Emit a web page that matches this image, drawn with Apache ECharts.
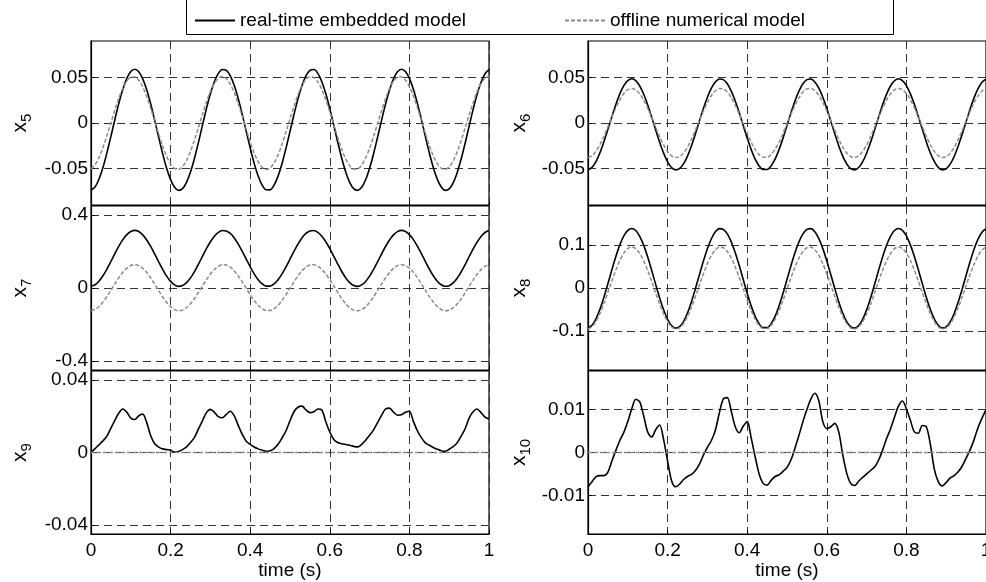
<!DOCTYPE html>
<html>
<head>
<meta charset="utf-8">
<title>Embedded vs offline model states</title>
<script src="https://cdn.jsdelivr.net/npm/echarts@6/dist/echarts.min.js"></script>
<style>
  html, body { margin: 0; padding: 0; background: #fff; }
  #chart { width: 986px; height: 582px; }
</style>
</head>
<body>
<div id="chart"></div>
<script>
// sample times (s)
const time = [
  0, 0.01, 0.02, 0.03, 0.04, 0.05, 0.06, 0.07, 0.08, 0.09,
  0.1, 0.11, 0.12, 0.13, 0.14, 0.15, 0.16, 0.17, 0.18, 0.19,
  0.2, 0.21, 0.22, 0.23, 0.24, 0.25, 0.26, 0.27, 0.28, 0.29,
  0.3, 0.31, 0.32, 0.33, 0.34, 0.35, 0.36, 0.37, 0.38, 0.39,
  0.4, 0.41, 0.42, 0.43, 0.44, 0.45, 0.46, 0.47, 0.48, 0.49,
  0.5, 0.51, 0.52, 0.53, 0.54, 0.55, 0.56, 0.57, 0.58, 0.59,
  0.6, 0.61, 0.62, 0.63, 0.64, 0.65, 0.66, 0.67, 0.68, 0.69,
  0.7, 0.71, 0.72, 0.73, 0.74, 0.75, 0.76, 0.77, 0.78, 0.79,
  0.8, 0.81, 0.82, 0.83, 0.84, 0.85, 0.86, 0.87, 0.88, 0.89,
  0.9, 0.91, 0.92, 0.93, 0.94, 0.95, 0.96, 0.97, 0.98, 0.99,
  1
];
const timeEnds = [0, 1];

const x5Embedded = [
  -0.0739, -0.0703, -0.0617, -0.0489, -0.0328, -0.0148, 0.0039, 0.0216, 0.0370, 0.0490,
  0.0565, 0.0590, 0.0563, 0.0485, 0.0364, 0.0208, 0.0030, -0.0156, -0.0336, -0.0496,
  -0.0622, -0.0705, -0.0739, -0.0721, -0.0652, -0.0538, -0.0387, -0.0212, -0.0026, 0.0156,
  0.0320, 0.0453, 0.0544, 0.0587, 0.0578, 0.0518, 0.0411, 0.0266, 0.0094, -0.0091,
  -0.0275, -0.0443, -0.0582, -0.0682, -0.0733, -0.0734, -0.0682, -0.0583, -0.0444, -0.0276,
  -0.0092, 0.0093, 0.0265, 0.0410, 0.0517, 0.0578, 0.0587, 0.0545, 0.0453, 0.0320,
  0.0157, -0.0025, -0.0211, -0.0387, -0.0538, -0.0652, -0.0721, -0.0739, -0.0706, -0.0623,
  -0.0496, -0.0337, -0.0157, 0.0029, 0.0207, 0.0363, 0.0485, 0.0562, 0.0590, 0.0565,
  0.0490, 0.0371, 0.0217, 0.0040, -0.0147, -0.0327, -0.0488, -0.0616, -0.0702, -0.0739,
  -0.0723, -0.0657, -0.0545, -0.0396, -0.0222, -0.0036, 0.0147, 0.0312, 0.0447, 0.0541,
  0.0586
];
const x5Offline = [
  -0.0503, -0.0459, -0.0380, -0.0270, -0.0139, 0.0002, 0.0144, 0.0274, 0.0382, 0.0461,
  0.0503, 0.0506, 0.0470, 0.0396, 0.0291, 0.0163, 0.0023, -0.0119, -0.0252, -0.0365,
  -0.0450, -0.0499, -0.0509, -0.0479, -0.0411, -0.0311, -0.0187, -0.0048, 0.0095, 0.0230,
  0.0347, 0.0437, 0.0493, 0.0510, 0.0487, 0.0426, 0.0331, 0.0210, 0.0073, -0.0070,
  -0.0207, -0.0328, -0.0424, -0.0486, -0.0510, -0.0494, -0.0439, -0.0350, -0.0233, -0.0098,
  0.0045, 0.0184, 0.0309, 0.0409, 0.0478, 0.0508, 0.0499, 0.0451, 0.0367, 0.0255,
  0.0122, -0.0020, -0.0160, -0.0288, -0.0394, -0.0468, -0.0506, -0.0504, -0.0462, -0.0384,
  -0.0276, -0.0147, -0.0005, 0.0136, 0.0267, 0.0377, 0.0458, 0.0502, 0.0507, 0.0472,
  0.0400, 0.0297, 0.0170, 0.0030, -0.0112, -0.0246, -0.0360, -0.0446, -0.0497, -0.0509,
  -0.0481, -0.0416, -0.0317, -0.0194, -0.0055, 0.0087, 0.0223, 0.0342, 0.0433, 0.0491,
  0.0510
];
const x6Embedded = [
  -0.0514, -0.0487, -0.0423, -0.0326, -0.0205, -0.0070, 0.0070, 0.0204, 0.0320, 0.0410,
  0.0466, 0.0485, 0.0465, 0.0406, 0.0315, 0.0198, 0.0064, -0.0076, -0.0211, -0.0331,
  -0.0426, -0.0489, -0.0515, -0.0501, -0.0449, -0.0363, -0.0250, -0.0118, 0.0022, 0.0158,
  0.0282, 0.0382, 0.0451, 0.0483, 0.0476, 0.0431, 0.0350, 0.0241, 0.0112, -0.0027,
  -0.0165, -0.0292, -0.0396, -0.0471, -0.0510, -0.0510, -0.0471, -0.0397, -0.0292, -0.0166,
  -0.0028, 0.0112, 0.0241, 0.0350, 0.0430, 0.0476, 0.0483, 0.0451, 0.0382, 0.0282,
  0.0159, 0.0022, -0.0118, -0.0249, -0.0363, -0.0449, -0.0501, -0.0515, -0.0489, -0.0427,
  -0.0332, -0.0212, -0.0077, 0.0063, 0.0197, 0.0314, 0.0406, 0.0464, 0.0485, 0.0466,
  0.0410, 0.0320, 0.0205, 0.0071, -0.0069, -0.0205, -0.0326, -0.0422, -0.0487, -0.0514,
  -0.0503, -0.0452, -0.0368, -0.0256, -0.0125, 0.0014, 0.0152, 0.0276, 0.0377, 0.0448,
  0.0482
];
const x6Offline = [
  -0.0379, -0.0359, -0.0310, -0.0236, -0.0145, -0.0041, 0.0065, 0.0166, 0.0255, 0.0323,
  0.0366, 0.0380, 0.0364, 0.0320, 0.0251, 0.0162, 0.0060, -0.0046, -0.0149, -0.0240,
  -0.0313, -0.0360, -0.0380, -0.0369, -0.0330, -0.0265, -0.0178, -0.0078, 0.0028, 0.0132,
  0.0226, 0.0302, 0.0354, 0.0378, 0.0373, 0.0339, 0.0278, 0.0195, 0.0097, -0.0009,
  -0.0114, -0.0210, -0.0290, -0.0347, -0.0376, -0.0376, -0.0347, -0.0290, -0.0211, -0.0115,
  -0.0010, 0.0096, 0.0194, 0.0277, 0.0339, 0.0373, 0.0378, 0.0354, 0.0302, 0.0226,
  0.0132, 0.0028, -0.0078, -0.0178, -0.0264, -0.0330, -0.0369, -0.0380, -0.0360, -0.0313,
  -0.0241, -0.0150, -0.0047, 0.0060, 0.0161, 0.0250, 0.0320, 0.0364, 0.0380, 0.0366,
  0.0323, 0.0255, 0.0167, 0.0065, -0.0041, -0.0144, -0.0236, -0.0309, -0.0358, -0.0379,
  -0.0371, -0.0333, -0.0268, -0.0183, -0.0084, 0.0022, 0.0127, 0.0221, 0.0298, 0.0352,
  0.0378
];
const x7Embedded = [
  0.0092, 0.0176, 0.0374, 0.0670, 0.1041, 0.1458, 0.1887, 0.2297, 0.2653, 0.2929,
  0.3103, 0.3160, 0.3097, 0.2918, 0.2638, 0.2279, 0.1867, 0.1437, 0.1022, 0.0654,
  0.0362, 0.0170, 0.0091, 0.0133, 0.0293, 0.0556, 0.0904, 0.1308, 0.1737, 0.2158,
  0.2536, 0.2843, 0.3054, 0.3154, 0.3133, 0.2993, 0.2747, 0.2412, 0.2015, 0.1588,
  0.1164, 0.0776, 0.0455, 0.0225, 0.0105, 0.0105, 0.0224, 0.0453, 0.0774, 0.1162,
  0.1586, 0.2013, 0.2410, 0.2745, 0.2993, 0.3132, 0.3154, 0.3055, 0.2844, 0.2538,
  0.2160, 0.1739, 0.1310, 0.0906, 0.0557, 0.0294, 0.0134, 0.0091, 0.0169, 0.0361,
  0.0652, 0.1020, 0.1435, 0.1865, 0.2277, 0.2637, 0.2917, 0.3096, 0.3160, 0.3103,
  0.2930, 0.2655, 0.2299, 0.1889, 0.1460, 0.1043, 0.0671, 0.0375, 0.0177, 0.0093,
  0.0128, 0.0282, 0.0540, 0.0884, 0.1286, 0.1715, 0.2137, 0.2518, 0.2830, 0.3046,
  0.3151
];
const x7Offline = [
  -0.1248, -0.1179, -0.1016, -0.0772, -0.0467, -0.0123, 0.0231, 0.0569, 0.0862, 0.1090,
  0.1233, 0.1280, 0.1228, 0.1081, 0.0850, 0.0554, 0.0215, -0.0140, -0.0482, -0.0785,
  -0.1025, -0.1184, -0.1249, -0.1214, -0.1083, -0.0866, -0.0579, -0.0246, 0.0108, 0.0454,
  0.0766, 0.1019, 0.1193, 0.1275, 0.1257, 0.1143, 0.0939, 0.0663, 0.0337, -0.0015,
  -0.0365, -0.0685, -0.0949, -0.1139, -0.1237, -0.1238, -0.1140, -0.0951, -0.0686, -0.0367,
  -0.0017, 0.0335, 0.0662, 0.0938, 0.1142, 0.1257, 0.1275, 0.1194, 0.1020, 0.0767,
  0.0456, 0.0109, -0.0244, -0.0578, -0.0865, -0.1082, -0.1214, -0.1249, -0.1185, -0.1027,
  -0.0787, -0.0483, -0.0141, 0.0213, 0.0552, 0.0849, 0.1080, 0.1228, 0.1280, 0.1233,
  0.1090, 0.0864, 0.0570, 0.0233, -0.0121, -0.0465, -0.0771, -0.1015, -0.1178, -0.1248,
  -0.1218, -0.1092, -0.0879, -0.0595, -0.0264, 0.0089, 0.0437, 0.0751, 0.1008, 0.1186,
  0.1273
];
const x8Embedded = [
  -0.0928, -0.0865, -0.0716, -0.0494, -0.0215, 0.0099, 0.0422, 0.0730, 0.0999, 0.1206,
  0.1337, 0.1380, 0.1333, 0.1198, 0.0988, 0.0717, 0.0407, 0.0084, -0.0229, -0.0506,
  -0.0725, -0.0870, -0.0929, -0.0897, -0.0778, -0.0580, -0.0318, -0.0013, 0.0310, 0.0626,
  0.0911, 0.1141, 0.1301, 0.1375, 0.1359, 0.1255, 0.1069, 0.0817, 0.0519, 0.0197,
  -0.0122, -0.0414, -0.0656, -0.0829, -0.0919, -0.0919, -0.0829, -0.0657, -0.0415, -0.0123,
  0.0196, 0.0517, 0.0816, 0.1068, 0.1254, 0.1359, 0.1375, 0.1301, 0.1142, 0.0912,
  0.0627, 0.0311, -0.0012, -0.0316, -0.0579, -0.0777, -0.0897, -0.0929, -0.0871, -0.0726,
  -0.0507, -0.0230, 0.0082, 0.0406, 0.0715, 0.0986, 0.1197, 0.1332, 0.1380, 0.1337,
  0.1207, 0.1000, 0.0732, 0.0424, 0.0101, -0.0213, -0.0493, -0.0715, -0.0865, -0.0928,
  -0.0901, -0.0786, -0.0591, -0.0332, -0.0030, 0.0293, 0.0610, 0.0897, 0.1131, 0.1294,
  0.1373
];
const x8Offline = [
  -0.0949, -0.0897, -0.0774, -0.0591, -0.0362, -0.0104, 0.0162, 0.0416, 0.0636, 0.0807,
  0.0914, 0.0950, 0.0911, 0.0800, 0.0627, 0.0404, 0.0150, -0.0116, -0.0373, -0.0601,
  -0.0781, -0.0901, -0.0949, -0.0923, -0.0825, -0.0662, -0.0446, -0.0196, 0.0070, 0.0330,
  0.0564, 0.0754, 0.0885, 0.0946, 0.0933, 0.0847, 0.0694, 0.0487, 0.0242, -0.0023,
  -0.0285, -0.0526, -0.0724, -0.0867, -0.0941, -0.0941, -0.0867, -0.0725, -0.0527, -0.0287,
  -0.0024, 0.0240, 0.0486, 0.0693, 0.0846, 0.0933, 0.0946, 0.0885, 0.0755, 0.0565,
  0.0331, 0.0071, -0.0195, -0.0445, -0.0661, -0.0824, -0.0923, -0.0949, -0.0901, -0.0782,
  -0.0602, -0.0374, -0.0117, 0.0149, 0.0403, 0.0626, 0.0800, 0.0911, 0.0950, 0.0915,
  0.0808, 0.0637, 0.0417, 0.0164, -0.0102, -0.0360, -0.0590, -0.0773, -0.0896, -0.0948,
  -0.0926, -0.0831, -0.0671, -0.0458, -0.0210, 0.0056, 0.0317, 0.0553, 0.0745, 0.0880,
  0.0945
];
const x9Embedded = [
  0, 0.0021, 0.0042, 0.0064, 0.0090, 0.0135, 0.0178, 0.0218, 0.0240, 0.0222,
  0.0190, 0.0182, 0.0203, 0.0212, 0.0165, 0.0092, 0.0048, 0.0030, 0.0020, 0.0016,
  0.0012, 0.0002, 0.0006, 0.0016, 0.0031, 0.0055, 0.0083, 0.0130, 0.0175, 0.0220,
  0.0238, 0.0222, 0.0198, 0.0192, 0.0211, 0.0228, 0.0202, 0.0150, 0.0100, 0.0062,
  0.0045, 0.0030, 0.0020, 0.0013, 0.0007, 0.0010, 0.0022, 0.0045, 0.0080, 0.0120,
  0.0175, 0.0225, 0.0250, 0.0256, 0.0235, 0.0220, 0.0225, 0.0240, 0.0235, 0.0170,
  0.0113, 0.0072, 0.0055, 0.0048, 0.0044, 0.0040, 0.0034, 0.0031, 0.0045, 0.0068,
  0.0095, 0.0125, 0.0165, 0.0205, 0.0240, 0.0245, 0.0223, 0.0206, 0.0208, 0.0222,
  0.0228, 0.0172, 0.0120, 0.0082, 0.0053, 0.0040, 0.0028, 0.0018, 0.0010, 0.0007,
  0.0018, 0.0032, 0.0054, 0.0090, 0.0131, 0.0190, 0.0225, 0.0240, 0.0220, 0.0195,
  0.0185
];
const x9Offline = [0, 0];
const x10Embedded = [
  -0.0080, -0.0068, -0.0057, -0.0054, -0.0054, -0.0046, -0.0020, 0.0005, 0.0028, 0.0047,
  0.0072, 0.0102, 0.0124, 0.0118, 0.0085, 0.0048, 0.0036, 0.0053, 0.0064, 0.0030,
  -0.0020, -0.0066, -0.0080, -0.0074, -0.0063, -0.0056, -0.0051, -0.0042, -0.0027, -0.0006,
  0.0012, 0.0028, 0.0052, 0.0092, 0.0125, 0.0128, 0.0096, 0.0060, 0.0046, 0.0061,
  0.0072, 0.0034, -0.0010, -0.0050, -0.0072, -0.0076, -0.0065, -0.0056, -0.0052, -0.0044,
  -0.0035, -0.0017, 0.0010, 0.0040, 0.0072, 0.0100, 0.0125, 0.0138, 0.0120, 0.0072,
  0.0056, 0.0060, 0.0068, 0.0048, -0.0005, -0.0048, -0.0072, -0.0077, -0.0067, -0.0058,
  -0.0050, -0.0042, -0.0034, -0.0018, 0.0005, 0.0032, 0.0055, 0.0082, 0.0108, 0.0120,
  0.0102, 0.0075, 0.0048, 0.0045, 0.0063, 0.0060, 0.0020, -0.0038, -0.0068, -0.0078,
  -0.0070, -0.0059, -0.0054, -0.0045, -0.0032, -0.0013, 0.0006, 0.0030, 0.0058, 0.0080,
  0.0100
];
const x10Offline = [0, 0];

// y tick labels of each panel
const x5Ticks = [-0.05, 0, 0.05];
const x6Ticks = [-0.05, 0, 0.05];
const x7Ticks = [-0.4, 0, 0.4];
const x8Ticks = [-0.1, 0, 0.1];
const x9Ticks = [-0.04, 0, 0.04];
const x10Ticks = [-0.01, 0, 0.01];

const seriesNames = ['real-time embedded model', 'offline numerical model'];

const FONT = '"Liberation Sans", Arial, sans-serif';
const GRID_DASH = '#333';
const OFFLINE_GRAY = '#8c8c8c';

const panels = [
  { sub: '5',  left: 91,  top: 41,  height: 164, range: 0.09,  ticks: x5Ticks,  emb: x5Embedded,  off: x5Offline,  offTime: time,     bottom: false },
  { sub: '6',  left: 588, top: 41,  height: 164, range: 0.09,  ticks: x6Ticks,  emb: x6Embedded,  off: x6Offline,  offTime: time,     bottom: false },
  { sub: '7',  left: 91,  top: 206, height: 164, range: 0.45,  ticks: x7Ticks,  emb: x7Embedded,  off: x7Offline,  offTime: time,     bottom: false },
  { sub: '8',  left: 588, top: 206, height: 164, range: 0.19,  ticks: x8Ticks,  emb: x8Embedded,  off: x8Offline,  offTime: time,     bottom: false },
  { sub: '9',  left: 91,  top: 371, height: 163, range: 0.045, ticks: x9Ticks,  emb: x9Embedded,  off: x9Offline,  offTime: timeEnds, bottom: true },
  { sub: '10', left: 588, top: 371, height: 163, range: 0.019, ticks: x10Ticks, emb: x10Embedded, off: x10Offline, offTime: timeEnds, bottom: true }
];

const zip = (xs, ys) => xs.map((x, i) => [x, ys[i]]);

const dashedSplit = {
  show: true,
  lineStyle: { color: GRID_DASH, width: 1, type: [8, 5] }
};

const grids = panels.map(p => ({
  left: p.left,
  top: p.top,
  width: 398,
  height: p.height,
  outerBoundsMode: 'none',
  containLabel: false,
  show: true,
  borderColor: '#000',
  borderWidth: 1.2,
  backgroundColor: 'transparent'
}));

const xAxes = panels.map((p, i) => ({
  type: 'value',
  gridIndex: i,
  min: 0,
  max: 1,
  interval: 0.2,
  name: p.bottom ? 'time (s)' : '',
  nameLocation: 'middle',
  nameGap: 27,
  nameTextStyle: { fontFamily: FONT, fontSize: 19, color: '#000' },
  axisLine: { show: true, onZero: false, lineStyle: { color: '#000', width: 1.2 } },
  axisTick: { show: true, inside: true, length: 4, lineStyle: { color: '#000' } },
  axisLabel: {
    show: p.bottom,
    margin: 7,
    fontFamily: FONT,
    fontSize: 19,
    color: '#000',
    showMinLabel: true,
    showMaxLabel: true
  },
  splitLine: dashedSplit
}));

const yAxes = panels.map((p, i) => ({
  type: 'value',
  gridIndex: i,
  min: -p.range,
  max: p.range,
  name: '{v|x}{s|' + p.sub + '}',
  nameLocation: 'middle',
  nameRotate: 90,
  nameGap: p.left < 300 ? 57 : 55,
  nameTextStyle: {
    rich: {
      v: { fontFamily: FONT, fontSize: 21, color: '#000', lineHeight: 28, verticalAlign: 'middle' },
      s: { fontFamily: FONT, fontSize: 15, color: '#000', lineHeight: 28, verticalAlign: 'bottom' }
    }
  },
  axisLine: { show: true, onZero: false, lineStyle: { color: '#000', width: 1.2 } },
  axisTick: { show: true, inside: true, length: 4, customValues: p.ticks, lineStyle: { color: '#000' } },
  axisLabel: {
    customValues: p.ticks,
    margin: 3,
    fontFamily: FONT,
    fontSize: 19,
    color: '#000'
  },
  splitLine: dashedSplit
}));

const series = [];
panels.forEach((p, i) => {
  series.push({
    name: seriesNames[0],
    type: 'line',
    xAxisIndex: i,
    yAxisIndex: i,
    data: zip(time, p.emb),
    symbol: 'none',
    smooth: 0.3,
    lineStyle: { color: '#000', width: 1.6 },
    itemStyle: { color: '#000' },
    z: 3
  });
  series.push({
    name: seriesNames[1],
    type: 'line',
    xAxisIndex: i,
    yAxisIndex: i,
    data: zip(p.offTime, p.off),
    symbol: 'none',
    smooth: 0.3,
    lineStyle: { color: OFFLINE_GRAY, width: 1.5, type: [4, 2] },
    itemStyle: { color: OFFLINE_GRAY },
    z: 4
  });
});

const legendText = { fontFamily: FONT, fontSize: 19, color: '#000' };
const legendBase = {
  top: 11,
  padding: 0,
  itemWidth: 40,
  itemHeight: 12,
  selectedMode: false,
  // hide the marker dot, keep only the line sample
  itemStyle: { opacity: 0 },
  textStyle: legendText
};

const option = {
  animation: false,
  backgroundColor: '#fff',
  grid: grids,
  xAxis: xAxes,
  yAxis: yAxes,
  legend: [
    Object.assign({ data: [seriesNames[0]], left: 194 }, legendBase),
    Object.assign({ data: [seriesNames[1]], left: 564 }, legendBase)
  ],
  graphic: [
    {
      type: 'rect',
      shape: { x: 186.5, y: -10, width: 707, height: 44.5 },
      style: { fill: 'none', stroke: '#000', lineWidth: 1 },
      silent: true
    }
  ],
  series: series
};

const chart = echarts.init(document.getElementById('chart'), null, { renderer: 'canvas' });
chart.setOption(option);
</script>
</body>
</html>
